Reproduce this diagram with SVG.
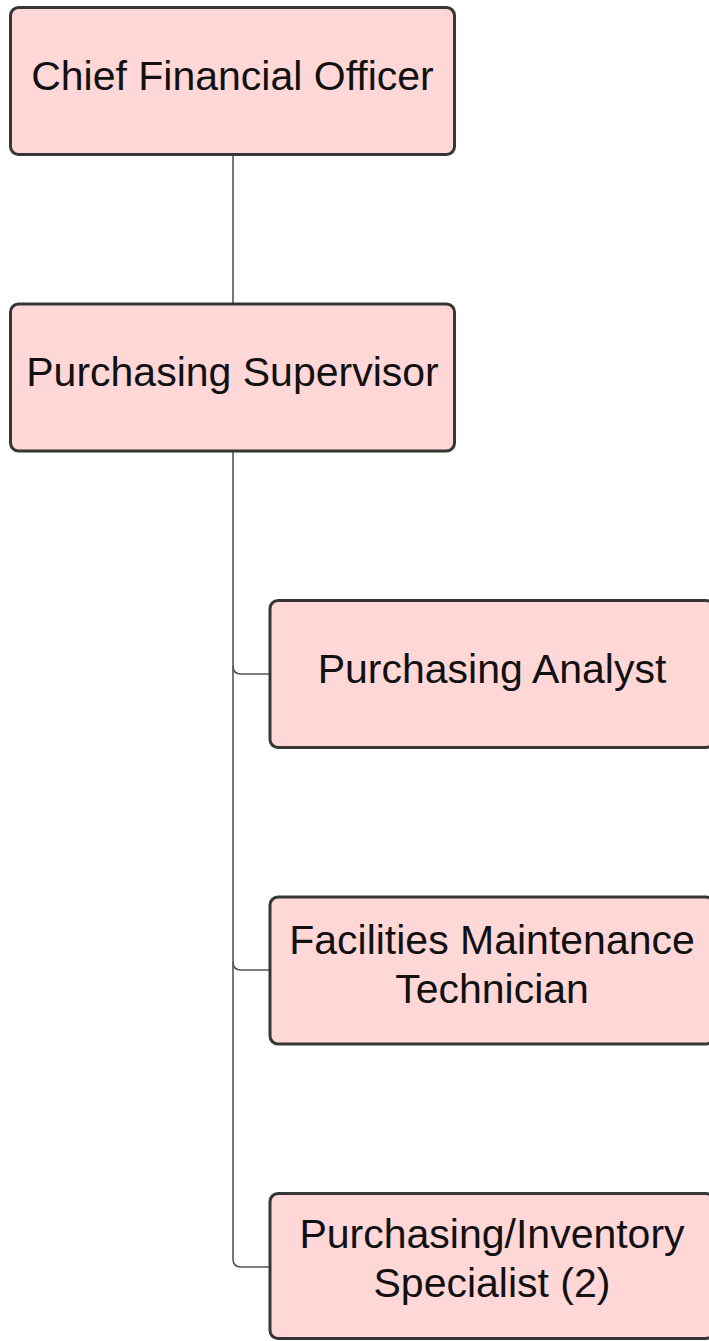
<svg xmlns="http://www.w3.org/2000/svg" width="709" height="1341" viewBox="0 0 709 1341">
<style>
.box{fill:#ffd7d7;stroke:#363636;stroke-width:3}
.lbl{font-family:"Liberation Sans",Arial,sans-serif;font-size:41px;fill:#111;text-anchor:middle}
.conn{fill:none;stroke:#555;stroke-width:1.6}
</style>
<rect width="709" height="1341" fill="#ffffff"/>
<g id="connectors">
<path class="conn" d="M233 155 V304"/>
<path class="conn" d="M233 452 V1259 Q233 1267 241 1267 H270"/>
<path class="conn" d="M233 666 Q233 674 241 674 H270"/>
<path class="conn" d="M233 962 Q233 970 241 970 H270"/>
</g>
<g id="cfo">
<rect class="box" x="10.5" y="7.5" width="444" height="147" rx="8"/>
<text class="lbl" x="232.5" y="90">Chief Financial Officer</text>
</g>
<g id="supervisor">
<rect class="box" x="10.5" y="304" width="444" height="147" rx="8"/>
<text class="lbl" x="232.5" y="386">Purchasing Supervisor</text>
</g>
<g id="analyst">
<rect class="box" x="270" y="600.5" width="444" height="147" rx="8"/>
<text class="lbl" x="492" y="683">Purchasing Analyst</text>
</g>
<g id="facilities">
<rect class="box" x="270" y="897" width="444" height="147" rx="8"/>
<text class="lbl" x="492" y="954">Facilities Maintenance</text>
<text class="lbl" x="492" y="1003">Technician</text>
</g>
<g id="inventory">
<rect class="box" x="270" y="1193.5" width="444" height="145" rx="8"/>
<text class="lbl" x="492" y="1248">Purchasing/Inventory</text>
<text class="lbl" x="492" y="1297">Specialist (2)</text>
</g>
</svg>
